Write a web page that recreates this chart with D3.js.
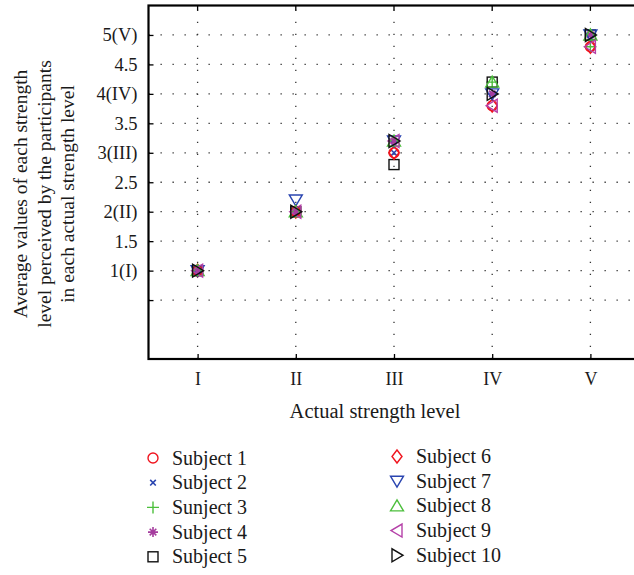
<!DOCTYPE html>
<html>
<head>
<meta charset="utf-8">
<script src="https://cdn.jsdelivr.net/npm/d3@7"></script>
<style>
  html, body { margin: 0; padding: 0; background: #fff; }
  svg { display: block; font-family: "Liberation Serif", "DejaVu Serif", serif; }
</style>
</head>
<body>
<svg id="chart" width="634" height="575"></svg>
<script>
// Actual strength levels (x) and their labels
const levels = [1, 2, 3, 4, 5];
const levelLabels = ["I", "II", "III", "IV", "V"];

// Y tick values and labels
const yTicks = [0.5, 1, 1.5, 2, 2.5, 3, 3.5, 4, 4.5, 5];
const yTickLabels = ["", "1(I)", "1.5", "2(II)", "2.5", "3(III)", "3.5", "4(IV)", "4.5", "5(V)"];

// Subject names (as printed in the legend)
const subjects = ["Subject 1", "Subject 2", "Sunject 3", "Subject 4", "Subject 5",
                  "Subject 6", "Subject 7", "Subject 8", "Subject 9", "Subject 10"];

// Perceived average strength per subject for levels I..V
const subject1  = [1, 2,   3.0, 3.8, 4.8];
const subject2  = [1, 2,   3.0, 4.0, 5.0];
const subject3  = [1, 2,   3.2, 4.2, 4.8];
const subject4  = [1, 2,   3.2, 4.0, 5.0];
const subject5  = [1, 2,   2.8, 4.2, 5.0];
const subject6  = [1, 2,   3.0, 3.8, 4.8];
const subject7  = [1, 2.2, 3.2, 4.0, 5.0];
const subject8  = [1, 2,   3.2, 4.2, 5.0];
const subject9  = [1, 2,   3.2, 3.8, 4.8];
const subject10 = [1, 2,   3.2, 4.0, 5.0];
const seriesValues = [subject1, subject2, subject3, subject4, subject5,
                      subject6, subject7, subject8, subject9, subject10];

const colors = ["#f0141e", "#2a45b0", "#4cbf3c", "#a53d9e", "#111111",
                "#f0141e", "#2a45b0", "#4cbf3c", "#b540a8", "#111111"];
const shapes = ["circle", "x", "plus", "star", "square",
                "diamond", "tridown", "triup", "trileft", "triright"];

const svg = d3.select("#chart");

const x = d3.scaleLinear().domain([0.5, 5.5]).range([148.5, 639.5]);
const y = d3.scaleLinear().domain([-0.5, 5.5]).range([359, 5.5]);

// Dotted grid
const grid = svg.append("g").attr("stroke", "#333").attr("stroke-width", 1.3)
  .attr("stroke-dasharray", "1.3,10.7");
grid.selectAll("line.h").data(yTicks).join("line")
  .attr("x1", x(0.5)).attr("x2", x(5.5))
  .attr("y1", d => y(d)).attr("y2", d => y(d));
grid.selectAll("line.v").data(levels).join("line")
  .attr("class", "v")
  .attr("x1", d => x(d)).attr("x2", d => x(d))
  .attr("y1", y(-0.5)).attr("y2", y(5.5));

// Axes with inward ticks
const yAxis = d3.axisLeft(y).tickValues(yTicks)
  .tickFormat((d, i) => yTickLabels[i]).tickSizeInner(-5).tickSizeOuter(0).tickPadding(11);
const gy = svg.append("g").attr("transform", `translate(${x(0.5)},0)`).call(yAxis);
gy.select(".domain").remove();
gy.selectAll("line").attr("stroke", "#000").attr("stroke-width", 1.3);
gy.selectAll("text").attr("font-size", 18.5).attr("fill", "#1a1a1a")
  .attr("font-family", "Liberation Serif, serif");

const xAxis = d3.axisBottom(x).tickValues(levels)
  .tickFormat((d, i) => levelLabels[i]).tickSizeInner(-5).tickSizeOuter(0).tickPadding(13);
const gx = svg.append("g").attr("transform", `translate(0,${y(-0.5)})`).call(xAxis);
gx.select(".domain").remove();
gx.selectAll("line").attr("stroke", "#000").attr("stroke-width", 1.3);
gx.selectAll("text").attr("font-size", 18).attr("fill", "#1a1a1a")
  .attr("font-family", "Liberation Serif, serif");

// Top ticks
svg.append("g").selectAll("line").data(levels).join("line")
  .attr("x1", d => x(d)).attr("x2", d => x(d))
  .attr("y1", y(5.5)).attr("y2", y(5.5) + 5)
  .attr("stroke", "#000").attr("stroke-width", 1.3);

// Frame
svg.append("rect")
  .attr("x", x(0.5)).attr("y", y(5.5))
  .attr("width", x(5.5) - x(0.5)).attr("height", y(-0.5) - y(5.5))
  .attr("fill", "none").attr("stroke", "#000").attr("stroke-width", 2.2);

// Marker drawing
function marker(g, shape, color) {
  const sw = 1.4;
  if (shape === "circle") {
    g.append("circle").attr("r", 5).attr("fill", "none").attr("stroke", color).attr("stroke-width", sw);
  } else if (shape === "x") {
    g.append("path").attr("d", "M-2.8,-2.8L2.8,2.8M-2.8,2.8L2.8,-2.8")
      .attr("stroke", color).attr("stroke-width", 1.6);
  } else if (shape === "plus") {
    g.append("path").attr("d", "M-6,0H6M0,-6V6").attr("stroke", color).attr("stroke-width", sw);
  } else if (shape === "star") {
    g.append("path").attr("d", "M-5,0H5M0,-5V5M-3.3,-3.3L3.3,3.3M-3.3,3.3L3.3,-3.3")
      .attr("stroke", color).attr("stroke-width", 1.6);
    g.append("circle").attr("r", 2.2).attr("fill", color);
  } else if (shape === "square") {
    g.append("rect").attr("x", -5).attr("y", -5).attr("width", 10).attr("height", 10)
      .attr("fill", "none").attr("stroke", color).attr("stroke-width", sw);
  } else if (shape === "diamond") {
    g.append("path").attr("d", "M0,-6.5L5,0L0,6.5L-5,0Z")
      .attr("fill", "none").attr("stroke", color).attr("stroke-width", sw);
  } else if (shape === "tridown") {
    g.append("path").attr("d", "M-6.5,-5H6.5L0,6Z")
      .attr("fill", "none").attr("stroke", color).attr("stroke-width", sw);
  } else if (shape === "triup") {
    g.append("path").attr("d", "M-6.5,5H6.5L0,-6Z")
      .attr("fill", "none").attr("stroke", color).attr("stroke-width", sw);
  } else if (shape === "trileft") {
    g.append("path").attr("d", "M5,-6.5V6.5L-6,0Z")
      .attr("fill", "none").attr("stroke", color).attr("stroke-width", sw);
  } else if (shape === "triright") {
    g.append("path").attr("d", "M-5,-6.5V6.5L6,0Z")
      .attr("fill", "none").attr("stroke", color).attr("stroke-width", sw);
  }
}

// Data points
const pts = svg.append("g");
seriesValues.forEach((vals, si) => {
  vals.forEach((v, li) => {
    const g = pts.append("g").attr("transform", `translate(${x(levels[li])},${y(v)})`);
    marker(g, shapes[si], colors[si]);
  });
});

// Axis titles
svg.append("text").attr("x", 375).attr("y", 418).attr("text-anchor", "middle")
  .attr("font-size", 20.5).attr("fill", "#1a1a1a").text("Actual strength level");

const yTitle = ["Average values of each strength",
                "level perceived by the participants",
                "in each actual strength level"];
svg.append("g").attr("transform", "translate(0,194) rotate(-90)")
  .selectAll("text").data(yTitle).join("text")
  .attr("x", 0).attr("y", (d, i) => 27 + i * 23.5)
  .attr("text-anchor", "middle").attr("font-size", 19.5).attr("fill", "#1a1a1a")
  .text(d => d);

// Legend in two columns
const legend = svg.append("g");
subjects.forEach((name, i) => {
  const col = i < 5 ? 0 : 1;
  const row = i % 5;
  const mx = col === 0 ? 153 : 397;
  const my = (col === 0 ? 458 : 456.5) + row * 24.7;
  const g = legend.append("g").attr("transform", `translate(${mx},${my})`);
  marker(g, shapes[i], colors[i]);
  legend.append("text").attr("x", mx + 19).attr("y", my + 6.5)
    .attr("font-size", 20).attr("fill", "#1a1a1a").text(name);
});
</script>
</body>
</html>
